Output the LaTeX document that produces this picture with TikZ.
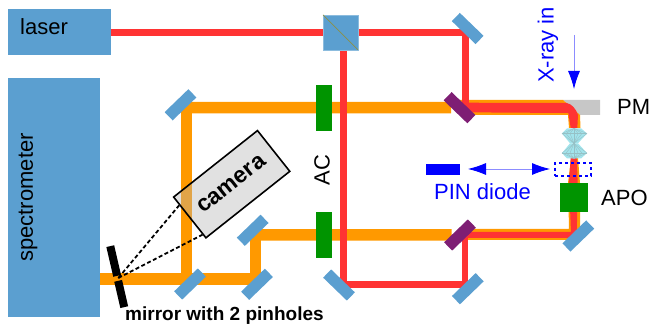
\documentclass[tikz,border=0pt]{standalone}
\usepackage{fontspec}
\setmainfont{Liberation Sans}
\usepackage{xcolor}
\usetikzlibrary{arrows.meta}
\usetikzlibrary{backgrounds}
\usetikzlibrary{calc}
\definecolor{boxblue}{HTML}{5B9FD0}
\definecolor{beamred}{HTML}{FF3333}
\definecolor{beamorange}{HTML}{FF9900}
\definecolor{splitpurple}{HTML}{7E1E74}
\definecolor{acgreen}{HTML}{009400}
\definecolor{lenscyan}{HTML}{A2E4EC}
\tikzset{
    box/.style = {fill = boxblue, inner sep = 0pt, outer sep = 0pt},
    mirror/.style = {fill = boxblue, minimum width = 33, minimum height = 11.5, inner sep = 0pt, outer sep = 0pt},
    splitter/.style = {mirror, fill = splitpurple},
    green/.style = {fill = acgreen, inner sep = 0pt, outer sep = 0pt},
    redbeam/.style = {draw = beamred, line width = 6.5},
    orangebeam/.style = {draw = beamorange, line width = 11.5},
    bluearrow/.style = {draw = blue!45, line width = 0.8},
    viewline/.style = {line width = 1.8, dash pattern = on 4pt off 2.5pt},
    blabel/.style = {text = blue, font = \fontsize{22}{24}\selectfont, inner sep = 0pt},
    klabel/.style = {text = black, font = \fontsize{22}{24}\selectfont, inner sep = 0pt},
}
\begin{document}
\begin{tikzpicture}[x = 1pt, y = -1pt]
        \useasboundingbox (0, 0) rectangle (649, 328);
        % boxes
        \node[box, minimum width = 103, minimum height = 46] (laser) at (59.5, 32.5) {};
        \node[box, minimum width = 92, minimum height = 239] (spectro) at (54, 197.8) {};
        \node[box, minimum width = 35, minimum height = 35, draw = boxblue!70!white, line width = 0.5] (cube) at (340.5, 32.5) {};
        \draw[draw = olive!60!boxblue, line width = 0.7] (cube.north west) -- (cube.south east);
        % mirrors
        \node[mirror, rotate = -44] (mtopright) at (467.7, 28.5) {};
        \node[mirror, rotate = -44] (mbotmid) at (339, 285) {};
        \node[mirror, rotate = 44] (mbotright) at (467.8, 288.7) {};
        \node[mirror, rotate = 44] (mfocus) at (578.3, 236) {};
        \node[mirror, rotate = 44] (mtopleft) at (180.5, 104.8) {};
        \node[mirror, rotate = 44] (mdelay) at (252.7, 230.3) {};
        \node[mirror, rotate = 44] (mbotleft) at (190, 284) {};
        \node[mirror, rotate = 44] (mdelayb) at (257, 284.3) {};
        \node[splitter, rotate = -44] (stop) at (459.5, 107.7) {};
        \node[splitter, rotate = 44] (sbot) at (460, 235) {};
        % green blocks
        \node[green, minimum width = 16, minimum height = 46] (actop) at (323.8, 107.7) {};
        \node[green, minimum width = 16, minimum height = 46] (acbot) at (323.8, 235) {};
        \node[green, minimum width = 27.5, minimum height = 29] (apo) at (573.8, 197.5) {};
        % pin diode
        \node[fill = blue, minimum width = 34, minimum height = 11.5, inner sep = 0pt] (pin) at (443, 169.5) {};
        \node[draw = blue, dashed, line width = 1.6, minimum width = 36, minimum height = 13, inner sep = 0pt] (pinslot) at (573, 169.5) {};
        % camera
        \node[draw = black, line width = 1.6, fill = black!29, fill opacity = 0.4, text opacity = 1, minimum width = 107, minimum height = 52, inner sep = 0pt, rotate = 38.4, font = \fontsize{23}{25}\selectfont\bfseries] (camera) at (231.7, 184.2) {camera};
        % pinhole mirror
        \coordinate (hole) at (118.3, 278);
        \node[fill = black, minimum width = 8, minimum height = 30.5, inner sep = 0pt, rotate = 13] (ptop) at (113.7, 261) {};
        \node[fill = black, minimum width = 8, minimum height = 27, inner sep = 0pt, rotate = 13] (pbot) at (121.2, 294) {};
        \draw[viewline] (hole) -- ($(camera.north west)!0.2!(camera.south west)$);
        \draw[viewline] (hole) -- ($(camera.north west)!0.9!(camera.south west)$);
        % beams
        \begin{scope}[on background layer]
            \fill[black!22] (563, 100) -- (600, 100) -- (600, 115) -- (578, 115) -- cycle;
            \draw[orangebeam] (186.3, 102) -- (186.3, 284.3);
            \draw[orangebeam] (186.3, 107.7) -- (actop) -- (stop);
            \draw[orangebeam] (spectro.east |- 0, 278.8) -- (261, 278.8);
            \draw[orangebeam] (255.3, 284.3) -- (255.3, 229.5);
            \draw[orangebeam] (249.8, 235) -- (acbot) -- (sbot);
            \fill[beamorange] (stop.center |- 0, 100) -- (563, 100) -- (580, 115) -- (580.5, 128) -- (569, 128) -- (568, 115) -- (stop.center |- 0, 115) -- cycle;
            \fill[beamorange] (571, 158) -- (578, 158) -- (580, 183) -- (580, 240) -- (sbot.center |- 0, 240) -- (sbot.center |- 0, 229) -- (569, 229) -- (568, 183) -- cycle;
            \draw[redbeam] (laser) -- (cube);
            \draw[redbeam] (cube) -- (465.7, 32.5) -- (465.7, 107);
            \draw[redbeam] (343.5, 32.5) -- (343.5, 284.3) -- (465, 284.3) -- (465, 235);
            \fill[beamred] (stop.center |- 0, 102.7) -- (566.7, 103) .. controls (572, 104) and (576, 109) .. (578, 115) -- (577.3, 128) -- (570.7, 128) -- (568.3, 113) -- (stop.center |- 0, 112.3) -- cycle;
            \fill[beamred] (570.7, 158) -- (576.7, 158) -- (577.7, 183) -- (576.7, 238) -- (sbot.center |- 0, 238) -- (sbot.center |- 0, 232) -- (571, 232) -- (569, 183) -- cycle;
        \end{scope}
        % lens
        \foreach \ya/\yb/\yc in {128.3/133.5/143.3, 158.5/153.1/143.3}
            {
                \fill[lenscyan] (567, \ya) -- (581, \ya) -- (587, \yb) -- (578, \yc) -- (570, \yc) -- (562, \yb) -- cycle;
                \foreach \x in {562, 566, 570, 574, 578, 582, 587}
                    {
                        \draw[lenscyan!65!gray, line width = 0.4] (\x, \yb) -- (574, \yc);
                        \draw[lenscyan!65!gray, line width = 0.4] (\x, \yb) -- (574, \ya);
                    }
                \draw[lenscyan!65!gray, line width = 0.4] (562, \yb) -- (587, \yb);
            }
        % arrows
        \coordinate (xtop) at (574, 35);
        \coordinate (xtip) at (574, 89);
        \draw[bluearrow, -{Latex[length = 18, width = 12, color = blue]}] (xtop) -- (xtip);
        \coordinate (pinleft) at (468, 169);
        \coordinate (pinright) at (550, 169);
        \draw[bluearrow, {Latex[length = 18, width = 12, color = blue]}-{Latex[length = 18, width = 12, color = blue]}] (pinleft) -- (pinright);
        % labels
        \node[klabel, anchor = west] (laserlabel) at (20, 27) {laser};
        \node[klabel, rotate = 90] (spectrolabel) at (28, 197.5) {spectrometer};
        \node[klabel, rotate = 90] (aclabel) at (322, 170) {AC};
        \node[klabel, anchor = west] (pmlabel) at (617, 107) {PM};
        \node[klabel, anchor = west] (apolabel) at (601, 198) {APO};
        \node[blabel, anchor = west] (pinlabel) at (434, 192) {PIN diode};
        \node[blabel, rotate = 90] (xraylabel) at (548, 45) {X-ray in};
        \node[inner sep = 0pt, anchor = west, font = \fontsize{19}{21}\selectfont\bfseries] (pinholes) at (125, 316) {mirror with 2 pinholes};
\end{tikzpicture}
\end{document}
